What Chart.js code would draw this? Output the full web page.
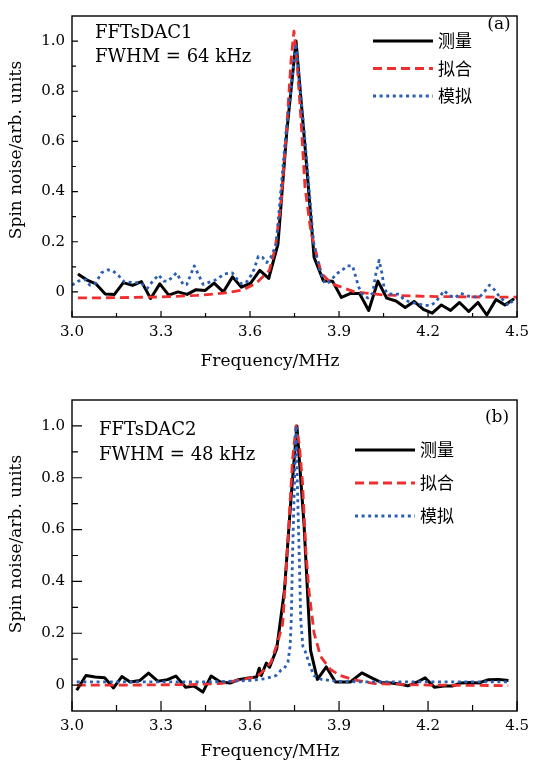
<!DOCTYPE html>
<html>
<head>
<meta charset="utf-8">
<script src="https://cdn.jsdelivr.net/npm/chart.js@4.4.0/dist/chart.umd.min.js"></script>
<style>
  html, body { margin: 0; padding: 0; background: #fff; }
  canvas { display: block; }
</style>
</head>
<body>
<canvas id="ca" width="535" height="384"></canvas>
<canvas id="cb" width="535" height="383"></canvas>
<script>
// ---- data ----
const seriesNames = ['测量', '拟合', '模拟'];
const xTicks = [3.0, 3.3, 3.6, 3.9, 4.2, 4.5];
const xMinor = [3.15, 3.45, 3.75, 4.05, 4.35];
const yTicks = [0, 0.2, 0.4, 0.6, 0.8, 1.0];
const yMinor = [0.1, 0.3, 0.5, 0.7, 0.9];

// panel (a)
const freqMeasA = [3.020, 3.051, 3.081, 3.112, 3.143, 3.173, 3.204, 3.234, 3.265, 3.296, 3.326, 3.357, 3.388, 3.418, 3.449, 3.479, 3.510, 3.541, 3.571, 3.602, 3.633, 3.663, 3.694, 3.724, 3.755, 3.786, 3.816, 3.847, 3.878, 3.908, 3.939, 3.969, 4.000, 4.031, 4.061, 4.092, 4.123, 4.153, 4.184, 4.214, 4.245, 4.276, 4.306, 4.337, 4.368, 4.398, 4.429, 4.459, 4.490];
const measA = [0.071, 0.047, 0.032, -0.008, -0.010, 0.037, 0.026, 0.041, -0.026, 0.032, -0.013, 0.000, -0.010, 0.009, 0.006, 0.035, 0.000, 0.060, 0.019, 0.035, 0.086, 0.054, 0.190, 0.640, 1.000, 0.570, 0.137, 0.045, 0.043, -0.022, -0.006, -0.006, -0.074, 0.043, -0.025, -0.036, -0.062, -0.038, -0.070, -0.085, -0.052, -0.074, -0.042, -0.078, -0.042, -0.092, -0.030, -0.052, -0.027];
const freqFitA = [3.02, 3.15, 3.30, 3.42, 3.51, 3.575, 3.62, 3.665, 3.685, 3.705, 3.725, 3.738, 3.748, 3.758, 3.771, 3.785, 3.805, 3.84, 3.875, 3.95, 4.05, 4.2, 4.35, 4.5];
const fitA = [-0.024, -0.023, -0.020, -0.014, -0.005, 0.008, 0.034, 0.085, 0.174, 0.36, 0.68, 0.92, 1.04, 0.92, 0.70, 0.42, 0.24, 0.075, 0.033, 0.001, -0.012, -0.018, -0.020, -0.021];
const freqSimA = [3.000, 3.021, 3.047, 3.060, 3.080, 3.099, 3.121, 3.137, 3.157, 3.176, 3.232, 3.254, 3.268, 3.292, 3.309, 3.324, 3.352, 3.376, 3.387, 3.412, 3.442, 3.459, 3.481, 3.515, 3.540, 3.559, 3.570, 3.586, 3.603, 3.614, 3.628, 3.642, 3.656, 3.672, 3.688, 3.720, 3.755, 3.787, 3.814, 3.825, 3.836, 3.853, 3.869, 3.891, 3.911, 3.928, 3.945, 3.952, 3.966, 3.980, 3.997, 4.013, 4.024, 4.035, 4.045, 4.052, 4.065, 4.084, 4.102, 4.119, 4.140, 4.163, 4.187, 4.210, 4.225, 4.240, 4.254, 4.270, 4.290, 4.310, 4.329, 4.354, 4.374, 4.390, 4.407, 4.424, 4.440, 4.457, 4.471, 4.484, 4.500];
const simA = [0.027, 0.043, 0.049, 0.027, 0.035, 0.076, 0.088, 0.085, 0.065, 0.040, 0.036, 0.014, 0.037, 0.068, 0.043, 0.043, 0.076, 0.027, 0.030, 0.104, 0.030, 0.037, 0.046, 0.072, 0.076, 0.046, 0.033, 0.036, 0.065, 0.091, 0.142, 0.138, 0.117, 0.142, 0.190, 0.620, 0.990, 0.580, 0.200, 0.136, 0.085, 0.033, 0.040, 0.072, 0.087, 0.104, 0.104, 0.078, 0.020, -0.012, -0.024, -0.005, 0.072, 0.126, 0.072, 0.014, -0.009, -0.008, -0.009, -0.031, -0.041, -0.047, -0.054, -0.054, -0.041, -0.018, 0.005, -0.012, -0.024, -0.005, -0.015, -0.020, -0.020, 0.001, 0.027, 0.008, -0.018, -0.037, -0.054, -0.037, -0.028];

// panel (b)
const freqMeasB = [3.016, 3.047, 3.078, 3.110, 3.140, 3.168, 3.196, 3.229, 3.258, 3.289, 3.322, 3.350, 3.383, 3.411, 3.441, 3.469, 3.500, 3.533, 3.561, 3.594, 3.622, 3.631, 3.638, 3.655, 3.666, 3.690, 3.716, 3.738, 3.758, 3.782, 3.804, 3.827, 3.857, 3.888, 3.938, 3.977, 4.010, 4.043, 4.075, 4.104, 4.132, 4.160, 4.190, 4.221, 4.254, 4.282, 4.310, 4.343, 4.371, 4.404, 4.438, 4.471];
const measB = [-0.020, 0.037, 0.031, 0.028, -0.011, 0.033, 0.012, 0.018, 0.046, 0.015, 0.021, 0.035, -0.008, -0.004, -0.027, 0.035, 0.012, 0.008, 0.021, 0.027, 0.031, 0.065, 0.037, 0.085, 0.069, 0.140, 0.365, 0.720, 1.000, 0.620, 0.134, 0.022, 0.070, 0.012, 0.012, 0.047, 0.028, 0.010, 0.008, 0.004, -0.003, 0.010, 0.028, -0.008, -0.004, -0.004, 0.008, 0.010, 0.008, 0.021, 0.022, 0.018];
const freqFitB = [3.016, 3.2, 3.4, 3.5, 3.56, 3.6, 3.627, 3.65, 3.671, 3.693, 3.71, 3.727, 3.743, 3.755, 3.766, 3.777, 3.788, 3.799, 3.816, 3.838, 3.871, 3.904, 3.95, 4.02, 4.2, 4.47];
const fitB = [0.000, 0.000, 0.002, 0.006, 0.018, 0.027, 0.037, 0.060, 0.089, 0.165, 0.236, 0.545, 0.865, 1.000, 0.930, 0.780, 0.520, 0.360, 0.200, 0.110, 0.060, 0.037, 0.020, 0.006, 0.000, -0.002];
const freqSimB = [3.016, 3.1, 3.2, 3.3, 3.4, 3.5, 3.6, 3.649, 3.688, 3.704, 3.716, 3.728, 3.735, 3.739, 3.743, 3.749, 3.755, 3.760, 3.766, 3.771, 3.778, 3.786, 3.800, 3.815, 3.84, 3.9, 4.0, 4.2, 4.47];
const simB = [0.012, 0.012, 0.012, 0.012, 0.012, 0.013, 0.018, 0.024, 0.037, 0.057, 0.065, 0.090, 0.150, 0.250, 0.490, 0.750, 1.000, 0.750, 0.490, 0.250, 0.150, 0.130, 0.080, 0.037, 0.022, 0.014, 0.012, 0.012, 0.012];

const serif = 'DejaVu Serif';
const colors = ['#000000', '#ee2f2f', '#2b5fb3'];

function pts(xs, ys) { return xs.map((x, i) => ({ x: x, y: ys[i] })); }

// frame, inward ticks, axis titles, notes and legend
const decor = {
  id: 'decor',
  afterDatasetsDraw(chart, args, o) {
    const { ctx, chartArea: a, scales: { x, y } } = chart;
    ctx.save();
    ctx.strokeStyle = '#000';
    ctx.lineWidth = 1.4;
    ctx.strokeRect(a.left, a.top, a.right - a.left, a.bottom - a.top);

    ctx.lineWidth = 1.2;
    ctx.beginPath();
    xTicks.forEach(v => { const p = x.getPixelForValue(v); ctx.moveTo(p, a.bottom); ctx.lineTo(p, a.bottom - o.major); });
    xMinor.forEach(v => { const p = x.getPixelForValue(v); ctx.moveTo(p, a.bottom); ctx.lineTo(p, a.bottom - o.minor); });
    yTicks.forEach(v => { const p = y.getPixelForValue(v); ctx.moveTo(a.left, p); ctx.lineTo(a.left + o.major, p); });
    yMinor.forEach(v => { const p = y.getPixelForValue(v); ctx.moveTo(a.left, p); ctx.lineTo(a.left + o.minor, p); });
    ctx.stroke();

    ctx.fillStyle = '#000';
    ctx.font = '17px "' + serif + '"';
    ctx.textAlign = 'center';
    ctx.textBaseline = 'middle';
    ctx.fillText('Frequency/MHz', o.xTitle[0], o.xTitle[1]);
    ctx.save();
    ctx.translate(o.yTitle[0], o.yTitle[1]);
    ctx.rotate(-Math.PI / 2);
    ctx.fillText('Spin noise/arb. units', 0, 0);
    ctx.restore();

    ctx.font = '17px "' + serif + '"';
    ctx.fillText(o.tag, o.tagPos[0], o.tagPos[1]);
    ctx.font = '18px "' + serif + '"';
    ctx.textAlign = 'left';
    ctx.fillText(o.name, o.notePos[0], o.notePos[1]);
    ctx.fillText(o.fwhm, o.notePos[0], o.notePos[1] + o.noteGap);

    // legend
    ctx.font = '17px "Noto Sans CJK SC"';
    chart.data.datasets.forEach((ds, i) => {
      const ly = o.legY + i * o.legGap;
      ctx.save();
      ctx.strokeStyle = ds.borderColor;
      ctx.lineWidth = ds.borderWidth;
      ctx.setLineDash(ds.borderDash || []);
      ctx.beginPath();
      ctx.moveTo(o.legX, ly);
      ctx.lineTo(o.legX + 60, ly);
      ctx.stroke();
      ctx.restore();
      ctx.fillText(ds.label, o.legX + 65, ly);
    });
    ctx.restore();
  }
};

function makeChart(id, meas, fit, sim, o) {
  return new Chart(document.getElementById(id), {
    type: 'line',
    data: {
      datasets: [
        { label: seriesNames[0], data: meas, borderColor: colors[0], borderWidth: 3, order: 3 },
        { label: seriesNames[1], data: fit, borderColor: colors[1], borderWidth: 2.8, borderDash: [9, 5], order: 2 },
        { label: seriesNames[2], data: sim, borderColor: colors[2], borderWidth: 2.8, borderDash: [3, 3.6], order: 1 }
      ]
    },
    options: {
      responsive: false,
      animation: false,
      devicePixelRatio: 1,
      elements: { point: { radius: 0 }, line: { tension: 0, fill: false, borderJoinStyle: 'round' } },
      layout: { autoPadding: false, padding: { left: 0, top: o.top, right: o.right, bottom: 0 } },
      plugins: { legend: { display: false }, tooltip: { enabled: false }, decor: o },
      scales: {
        x: {
          type: 'linear', min: 3.0, max: 4.5,
          afterBuildTicks: s => { s.ticks = xTicks.map(v => ({ value: v })); },
          afterFit: s => { s.height = o.xh; },
          grid: { display: false, drawTicks: false },
          border: { display: false },
          ticks: { padding: 6, color: '#000', font: { family: serif, size: 15 }, callback: v => v.toFixed(1) }
        },
        y: {
          type: 'linear', min: -0.1, max: 1.1,
          afterBuildTicks: s => { s.ticks = yTicks.map(v => ({ value: v })); },
          afterFit: s => { s.width = 72; },
          grid: { display: false, drawTicks: false },
          border: { display: false },
          ticks: { padding: 7, color: '#000', font: { family: serif, size: 15 }, callback: v => v === 0 ? '0' : v.toFixed(1) }
        }
      }
    },
    plugins: [decor]
  });
}

makeChart('ca', pts(freqMeasA, measA), pts(freqFitA, fitA), pts(freqSimA, simA), {
  top: 6, right: 12, xh: 67, major: 6, minor: 4,
  xTitle: [270, 362], yTitle: [17, 150],
  tag: '(a)', tagPos: [499, 25],
  name: 'FFTsDAC1', fwhm: 'FWHM = 64 kHz', notePos: [95, 33], noteGap: 24,
  legX: 373, legY: 41, legGap: 27.5
});
makeChart('cb', pts(freqMeasB, measB), pts(freqFitB, fitB), pts(freqSimB, simB), {
  top: 15, right: 13, xh: 56, major: 10, minor: 6,
  xTitle: [270, 368], yTitle: [17, 160],
  tag: '(b)', tagPos: [497, 34],
  name: 'FFTsDAC2', fwhm: 'FWHM = 48 kHz', notePos: [99, 46], noteGap: 25,
  legX: 355, legY: 66, legGap: 33
});
</script>
</body>
</html>
